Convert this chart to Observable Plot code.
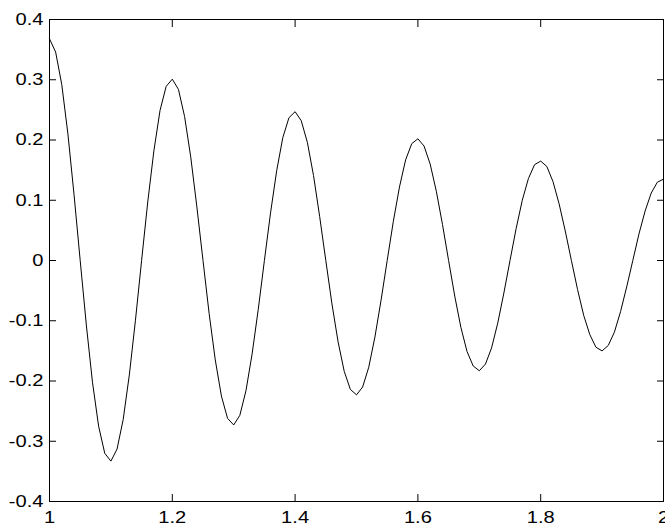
<!DOCTYPE html>
<html>
<head>
<meta charset="utf-8">
<script src="https://cdn.jsdelivr.net/npm/d3@7"></script>
<script src="https://cdn.jsdelivr.net/npm/@observablehq/plot@0.6"></script>
<style>
  html, body { margin: 0; padding: 0; background: #fff; overflow: hidden; }
  svg { display: block; }
</style>
</head>
<body>
<div id="chart"></div>
<script>
const xValues = [
  1.00, 1.01, 1.02, 1.03, 1.04, 1.05, 1.06, 1.07, 1.08, 1.09,
  1.10, 1.11, 1.12, 1.13, 1.14, 1.15, 1.16, 1.17, 1.18, 1.19,
  1.20, 1.21, 1.22, 1.23, 1.24, 1.25, 1.26, 1.27, 1.28, 1.29,
  1.30, 1.31, 1.32, 1.33, 1.34, 1.35, 1.36, 1.37, 1.38, 1.39,
  1.40, 1.41, 1.42, 1.43, 1.44, 1.45, 1.46, 1.47, 1.48, 1.49,
  1.50, 1.51, 1.52, 1.53, 1.54, 1.55, 1.56, 1.57, 1.58, 1.59,
  1.60, 1.61, 1.62, 1.63, 1.64, 1.65, 1.66, 1.67, 1.68, 1.69,
  1.70, 1.71, 1.72, 1.73, 1.74, 1.75, 1.76, 1.77, 1.78, 1.79,
  1.80, 1.81, 1.82, 1.83, 1.84, 1.85, 1.86, 1.87, 1.88, 1.89,
  1.90, 1.91, 1.92, 1.93, 1.94, 1.95, 1.96, 1.97, 1.98, 1.99,
  2.00
];
const yValues = [
  0.368, 0.346, 0.292, 0.210, 0.109, 0.000, -0.107, -0.202, -0.275, -0.320,
  -0.333, -0.313, -0.264, -0.190, -0.099, 0.000, 0.097, 0.182, 0.249, 0.289,
  0.301, 0.284, 0.239, 0.172, 0.089, 0.000, -0.088, -0.165, -0.225, -0.262,
  -0.273, -0.257, -0.216, -0.155, -0.081, 0.000, 0.079, 0.149, 0.204, 0.237,
  0.247, 0.232, 0.196, 0.141, 0.073, 0.000, -0.072, -0.135, -0.184, -0.214,
  -0.223, -0.210, -0.177, -0.127, -0.066, 0.000, 0.065, 0.122, 0.167, 0.194,
  0.202, 0.190, 0.160, 0.115, 0.060, 0.000, -0.059, -0.111, -0.151, -0.175,
  -0.183, -0.172, -0.145, -0.104, -0.054, 0.000, 0.053, 0.100, 0.136, 0.159,
  0.165, 0.156, 0.131, 0.094, 0.049, 0.000, -0.048, -0.091, -0.123, -0.144,
  -0.150, -0.141, -0.119, -0.085, -0.044, 0.000, 0.044, 0.082, 0.112, 0.130,
  0.135
];
const xTicks = [1, 1.2, 1.4, 1.6, 1.8, 2];
const xTickLabels = ["1", "1.2", "1.4", "1.6", "1.8", "2"];
const yTicks = [-0.4, -0.3, -0.2, -0.1, 0, 0.1, 0.2, 0.3, 0.4];
const yTickLabels = ["-0.4", "-0.3", "-0.2", "-0.1", "0", "0.1", "0.2", "0.3", "0.4"];

const data = xValues.map((x, i) => ({x, y: yValues[i]}));
const xLabelMap = new Map(xTicks.map((t, i) => [t, xTickLabels[i]]));
const yLabelMap = new Map(yTicks.map((t, i) => [t, yTickLabels[i]]));
const blank = () => "";

const chart = Plot.plot({
  width: 665,
  height: 526,
  marginLeft: 49,
  marginRight: 2,
  marginTop: 19,
  marginBottom: 25,
  style: {
    fontFamily: "'Liberation Sans', Arial, Helvetica, sans-serif",
    fontSize: "16.5px",
    background: "#fff",
    color: "#000",
    overflow: "visible"
  },
  x: {domain: [1, 2]},
  y: {domain: [-0.4, 0.4]},
  marks: [
    // inward tick marks on all four sides
    Plot.axisX(xTicks, {anchor: "bottom", tickSize: 7, dy: -7, tickFormat: blank, label: null}),
    Plot.axisX(xTicks, {anchor: "top", tickSize: 7, dy: 7, tickFormat: blank, label: null}),
    Plot.axisY(yTicks, {anchor: "left", tickSize: 7, dx: 7, tickFormat: blank, label: null}),
    Plot.axisY(yTicks, {anchor: "right", tickSize: 7, dx: -7, tickFormat: blank, label: null}),
    // tick labels
    Plot.axisX(xTicks, {anchor: "bottom", tickSize: 0, tickPadding: 10, tickFormat: d => xLabelMap.get(d), label: null}),
    Plot.axisY(yTicks, {anchor: "left", tickSize: 0, tickPadding: 6, tickFormat: d => yLabelMap.get(d), label: null}),
    Plot.line(data, {x: "x", y: "y", stroke: "#000", strokeWidth: 1}),
    Plot.frame({stroke: "#000", strokeWidth: 1})
  ]
});
// widen the glyphs slightly around their anchor point, like the reference's font
chart.querySelectorAll("text").forEach(t => {
  if (!t.textContent) return;
  const tr = t.getAttribute("transform") || "";
  t.setAttribute("transform", (tr + " scale(1.22,1)").trim());
});
document.getElementById("chart").appendChild(chart);
</script>
</body>
</html>
